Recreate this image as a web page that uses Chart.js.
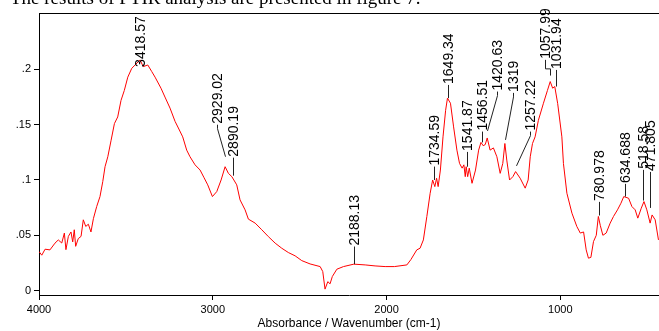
<!DOCTYPE html>
<html><head><meta charset="utf-8">
<script src="https://cdn.jsdelivr.net/npm/chart.js@4"></script>
<style>
html,body{margin:0;padding:0;background:#fff;overflow:hidden;}
#wrap{position:relative;width:659px;height:331px;overflow:hidden;}
#intro{position:absolute;left:10px;top:-11px;font-family:"Liberation Serif","DejaVu Serif",serif;font-size:19px;line-height:18px;white-space:nowrap;color:#000;}
canvas{position:absolute;left:0;top:0;}
</style></head><body>
<div id="wrap"><canvas id="c" width="659" height="331"></canvas><div id="intro">The results of FTIR analysis are presented in figure 7.</div></div>
<script>
// ---- data ----
const wavenumbers = [
 4000,3984,3965,3937,3908,3889,3869,3854,3845,3831,3816,3806,3797,3789,3774,3758,3745,3731,3716,3701,
 3687,3668,3649,3633,3620,3604,3585,3566,3547,3528,3509,3489,3466,3447,3418.57,3400,3374,3351,3332,3298,
 3275,3246,3217,3198,3173,3150,3131,3102,3073,3050,3029,3002,2977,2952,2929.02,2910,2890.19,2862,2843,2814,
 2795,2756,2718,2680,2641,2603,2565,2526,2488,2440,2382,2367,2354,2338,2325,2312,2286,2248,2188.13,2123,
 2066,2008,1955,1883,1860,1826,1807,1788,1768,1749,1734.59,1722,1712,1703,1690,1675,1660,1649.34,1632,1614,
 1595,1580,1565,1555,1547,1541.87,1533,1524,1508,1488,1470,1456.51,1444,1432,1420.63,1404,1385,1365,1346,1331,
 1319,1308,1292,1273,1257.22,1231,1202,1185,1173,1160,1145,1126,1097,1074,1057.99,1044,1031.94,1015,991,982,
 962,933,905,885,866,851,838,824,809,793,780.978,770,755,736,713,694,671,651,634.688,607,
 588,569,554,534,518.58,502,483,471.805,454,435
];
const absorbance = [
 0.0353,0.032,0.0374,0.0368,0.0429,0.0458,0.043,0.052,0.037,0.049,0.053,0.044,0.055,0.040,0.047,0.049,0.064,0.058,0.060,0.053,
 0.065,0.076,0.085,0.0986,0.112,0.121,0.136,0.151,0.157,0.172,0.181,0.193,0.201,0.204,0.2086,0.2025,0.204,0.198,0.193,0.183,
 0.175,0.165,0.153,0.147,0.139,0.127,0.121,0.1137,0.109,0.102,0.0956,0.085,0.0895,0.100,0.112,0.106,0.103,0.0956,0.082,0.073,
 0.0646,0.061,0.055,0.0488,0.0429,0.0383,0.0344,0.0314,0.0271,0.0241,0.0217,0.0172,0.0013,0.0081,0.0061,0.0127,0.0193,0.0217,0.0239,0.0232,
 0.0223,0.0217,0.0217,0.0232,0.028,0.0368,0.0383,0.0458,0.067,0.088,0.100,0.094,0.1016,0.094,0.109,0.139,0.163,0.174,0.1694,0.148,
 0.127,0.115,0.1107,0.1137,0.103,0.112,0.103,0.1107,0.097,0.109,0.127,0.134,0.131,0.132,0.138,0.127,0.129,0.121,0.106,0.115,
 0.133,0.118,0.100,0.103,0.1076,0.1016,0.0926,0.100,0.121,0.133,0.139,0.154,0.1694,0.181,0.189,0.183,0.1845,0.169,0.139,0.115,
 0.088,0.070,0.058,0.052,0.053,0.0368,0.0293,0.030,0.0443,0.050,0.067,0.059,0.050,0.052,0.061,0.067,0.073,0.079,0.085,0.0835,
 0.076,0.073,0.0655,0.0745,0.0805,0.073,0.061,0.0684,0.064,0.0458
];
const xTickValues = [4000, 3000, 2000, 1000];
const yTickValues = [0, 0.05, 0.1, 0.15, 0.2];
const yTickLabels = ['0', '.05', '.1', '.15', '.2'];
const peakWavenumbers = [3418.57,2929.02,2890.19,2188.13,1734.59,1649.34,1541.87,1456.51,1420.63,1319,1257.22,1057.99,1031.94,780.978,634.688,518.58,471.805];
const peakLabels = ['3418.57','2929.02','2890.19','2188.13','1734.59','1649.34','1541.87','1456.51','1420.63','1319','1257.22','1057.99','1031.94','780.978','634.688','518.58','471.805'];
const peakAbsorbance = [0.2086,0.112,0.103,0.0239,0.100,0.174,0.112,0.134,0.138,0.133,0.1076,0.189,0.1845,0.067,0.085,0.0805,0.0684];

// ---- annotation layout (pixels) ----
const labelLayout = [
 {dx:0, rise:-8, gap:0, leader:'none'},
 {dx:-8.5, rise:42, gap:10, leader:'bent'},
 {dx:1, rise:19, gap:1, leader:'v'},
 {dx:0, rise:17.6, gap:0, leader:'v'},
 {dx:1, rise:13.4, gap:0, leader:'v'},
 {dx:1, rise:13.2, gap:0, leader:'v'},
 {dx:0.5, rise:14.8, gap:0, leader:'v'},
 {dx:1, rise:10.8, gap:0, leader:'v'},
 {dx:10, rise:46.4, gap:7, leader:'bent'},
 {dx:8.5, rise:50.6, gap:3.6, leader:'bent'},
 {dx:14.6, rise:40, gap:5.7, leader:'bent'},
 {dx:-5, rise:21.7, gap:6, leader:'bracket'},
 {dx:1, rise:16.6, gap:0, leader:'v'},
 {dx:0.3, rise:14.6, gap:1, leader:'v'},
 {dx:0.8, rise:12.7, gap:0, leader:'v'},
 {dx:-1, rise:31.7, gap:1, leader:'v'},
 {dx:-2, rise:43, gap:7, leader:'v'}
];

const SANS = '"Liberation Sans", Arial, Helvetica, sans-serif';

const peakPlugin = {
  id: 'peaks',
  afterDatasetsDraw(chart) {
    const {ctx, scales: {x, y}, chartArea} = chart;
    ctx.save();
    // top frame line
    ctx.strokeStyle = '#000'; ctx.lineWidth = 1;
    ctx.beginPath();
    ctx.moveTo(chartArea.left, Math.round(chartArea.top) + 0.5);
    ctx.lineTo(chartArea.right, Math.round(chartArea.top) + 0.5);
    ctx.stroke();
    ctx.font = '14px ' + SANS;
    ctx.fillStyle = '#000';
    ctx.strokeStyle = '#222';
    peakWavenumbers.forEach((w, i) => {
      const L = labelLayout[i];
      const px = x.getPixelForValue(w);
      const py = y.getPixelForValue(peakAbsorbance[i]);
      const tx = Math.round(px + L.dx) + 0.5;
      const tb = py - L.rise;
      const ey = py - L.gap;
      const pxr = Math.round(px) + 0.5;
      ctx.beginPath();
      if (L.leader === 'v') { ctx.moveTo(tx, tb); ctx.lineTo(tx, ey); }
      else if (L.leader === 'bent') { ctx.moveTo(tx, tb); ctx.lineTo(tx, tb + 4); ctx.lineTo(pxr, ey); }
      else if (L.leader === 'bracket') { ctx.moveTo(tx, tb); ctx.lineTo(tx, tb + 9); ctx.lineTo(pxr, tb + 9); ctx.lineTo(pxr, ey); }
      ctx.stroke();
      ctx.save();
      ctx.translate(tx, tb);
      ctx.rotate(-Math.PI / 2);
      ctx.textAlign = 'left';
      ctx.textBaseline = 'middle';
      ctx.fillText(peakLabels[i], 1, 0.5);
      ctx.restore();
    });
    ctx.restore();
  }
};

new Chart(document.getElementById('c'), {
  type: 'line',
  data: {
    datasets: [{
      data: wavenumbers.map((w, i) => ({x: w, y: absorbance[i]})),
      borderColor: '#ff0000',
      borderWidth: 1,
      pointRadius: 0,
      tension: 0,
      fill: false
    }]
  },
  options: {
    responsive: false,
    animation: false,
    layout: {padding: {top: 13, left: 0, right: 0, bottom: 0}},
    plugins: {legend: {display: false}, tooltip: {enabled: false}},
    scales: {
      x: {
        type: 'linear', reverse: true, min: 432, max: 4000,
        afterBuildTicks: s => { s.ticks = xTickValues.map(v => ({value: v})); },
        afterFit: s => { s.height = 36; },
        ticks: {color: '#000', font: {family: SANS, size: 11}, padding: 3, maxRotation: 0, autoSkip: false, callback: v => String(v)},
        grid: {display: true, drawOnChartArea: false, drawTicks: true, tickLength: 5, color: '#000'},
        border: {display: true, color: '#000', width: 1},
        title: {display: true, text: 'Absorbance / Wavenumber (cm-1)', color: '#000', font: {family: SANS, size: 12}, padding: {top: 0, bottom: 0}}
      },
      y: {
        type: 'linear', min: -0.004, max: 0.251,
        afterBuildTicks: s => { s.ticks = yTickValues.map(v => ({value: v})); },
        afterFit: s => { s.width = 39; },
        ticks: {color: '#000', font: {family: SANS, size: 11}, padding: 3, callback: (v, i) => yTickLabels[i]},
        grid: {display: true, drawOnChartArea: false, drawTicks: true, tickLength: 5, color: '#000'},
        border: {display: true, color: '#000', width: 1}
      }
    }
  },
  plugins: [peakPlugin]
});
</script>
</body></html>
